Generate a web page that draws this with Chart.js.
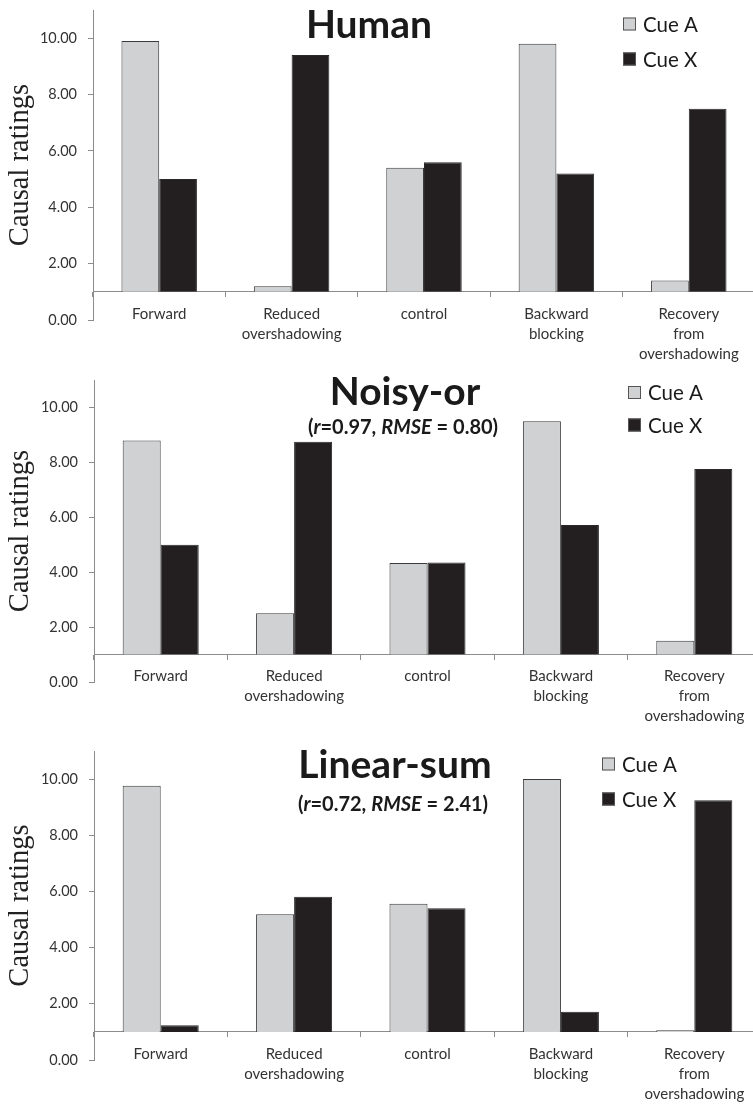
<!DOCTYPE html>
<html>
<head>
<meta charset="utf-8">
<script src="https://cdn.jsdelivr.net/npm/chart.js@4"></script>
<style>
  html, body { margin: 0; padding: 0; background: #fff; overflow: hidden; }
  body { width: 753px; height: 1104px; position: relative; }
  .panel { position: absolute; left: 0; }
</style>
</head>
<body>
<div class="panel" style="top:0px"><canvas id="human" width="755" height="368"></canvas></div>
<div class="panel" style="top:368px"><canvas id="noisy" width="761" height="368"></canvas></div>
<div class="panel" style="top:736px"><canvas id="linear" width="761" height="368"></canvas></div>
<script>
// categories and series
var categories = [['Forward'], ['Reduced', 'overshadowing'], ['control'], ['Backward', 'blocking'], ['Recovery', 'from', 'overshadowing']];
var seriesNames = ['Cue A', 'Cue X'];

// values
var humanCueA = [9.9, 1.2, 5.4, 9.8, 1.4];
var humanCueX = [5.0, 9.4, 5.6, 5.2, 7.5];
var noisyCueA = [8.8, 2.5, 4.33, 9.5, 1.5];
var noisyCueX = [5.0, 8.75, 4.35, 5.72, 7.76];
var linearCueA = [9.76, 5.19, 5.56, 10.0, 1.06];
var linearCueX = [1.24, 5.81, 5.40, 1.72, 9.25];

// value axis
var yMin = 0, yMax = 11, yStep = 2, barBase = 1;

// panel titles and fit statistics
var panelTitles = ['Human', 'Noisy-or', 'Linear-sum'];
var fitR = [null, '0.97', '0.72'];
var fitRmse = [null, '0.80', '2.41'];

var colors = ['#d0d1d3', '#231f20'];
var axisGray = '#8c8c8c';
var sans = 'Lato, "Open Sans", sans-serif';

// layout of each panel (pixels in its canvas)
var layouts = [
  { id: 'human', padTop: 10, padBottom: 48, axisLeft: 93, titleX: 369, titleY: 37.5, subX: 0, subY: 0, legX: 623, legY: [24, 59] },
  { id: 'noisy', padTop: 12, padBottom: 54, axisLeft: 94, titleX: 405, titleY: 37, subX: 403, subY: 60, legX: 628, legY: [24.5, 57] },
  { id: 'linear', padTop: 15, padBottom: 44, axisLeft: 94, titleX: 395, titleY: 42, subX: 393, subY: 69, legX: 602, legY: [28, 63] }
];

// title, subtitle and legend drawn inside the plot
var overlay = {
  id: 'overlay',
  afterDraw: function (chart) {
    var o = chart.options.plugins.overlay;
    var ctx = chart.ctx;
    ctx.save();
    ctx.fillStyle = '#1a1a1a';
    ctx.textAlign = 'center';
    ctx.textBaseline = 'alphabetic';
    ctx.font = 'bold 39px ' + sans;
    ctx.fillText(o.title, o.titleX, o.titleY);

    if (o.r) {
      var parts = [['(', false], ['r', true], ['=' + o.r + ', ', false], ['RMSE', true], [' = ' + o.rmse + ')', false]];
      var fontOf = function (it) { return (it ? 'italic ' : '') + 'bold 20px ' + sans; };
      var total = 0;
      parts.forEach(function (p) { ctx.font = fontOf(p[1]); total += ctx.measureText(p[0]).width; });
      var x = o.subX - total / 2;
      ctx.textAlign = 'left';
      ctx.textBaseline = 'middle';
      parts.forEach(function (p) {
        ctx.font = fontOf(p[1]);
        ctx.fillText(p[0], x, o.subY);
        x += ctx.measureText(p[0]).width;
      });
    }

    ctx.textAlign = 'left';
    ctx.textBaseline = 'middle';
    ctx.font = '20.5px ' + sans;
    chart.data.datasets.forEach(function (ds, i) {
      var y = o.legY[i];
      ctx.fillStyle = ds.backgroundColor;
      ctx.fillRect(o.legX, y - 6.5, 13, 13);
      ctx.strokeStyle = '#555';
      ctx.lineWidth = 1;
      ctx.strokeRect(o.legX + 0.5, y - 6, 12, 12);
      ctx.fillStyle = '#1a1a1a';
      ctx.fillText(ds.label, o.legX + 20, y + 1);
    });
    ctx.restore();
  }
};

function makeChart(i, cueA, cueX) {
  var L = layouts[i];
  var ctx = document.getElementById(L.id).getContext('2d');
  return new Chart(ctx, {
    type: 'bar',
    data: {
      labels: categories,
      datasets: [
        { label: seriesNames[0], data: cueA, backgroundColor: colors[0], borderColor: '#3a3a3a', borderWidth: 1, base: barBase },
        { label: seriesNames[1], data: cueX, backgroundColor: colors[1], borderColor: '#2a2a2a', borderWidth: 1, base: barBase }
      ]
    },
    options: {
      responsive: false,
      animation: false,
      devicePixelRatio: 1,
      layout: { padding: { left: 0, right: 0, top: L.padTop, bottom: L.padBottom } },
      datasets: { bar: { categoryPercentage: 0.57, barPercentage: 1.0 } },
      scales: {
        x: {
          position: { y: barBase },
          offset: true,
          grid: { offset: true, drawOnChartArea: false, drawTicks: true, tickLength: 5, color: axisGray },
          border: { color: axisGray, width: 1 },
          ticks: {
            autoSkip: false, maxRotation: 0, padding: 7, color: '#333',
            font: { family: sans, size: 15, lineHeight: 20 / 15 }
          }
        },
        y: {
          min: yMin, max: yMax,
          grid: { drawOnChartArea: false, drawTicks: true, tickLength: 5, color: axisGray },
          border: { color: axisGray, width: 1 },
          ticks: {
            stepSize: yStep, includeBounds: false, padding: 11, color: '#333',
            font: { family: sans, size: 14.5 },
            callback: function (v) { return v.toFixed(2); }
          },
          title: {
            display: true, text: 'Causal ratings', color: '#222',
            font: { family: '"Liberation Serif", "Times New Roman", serif', size: 28.5, lineHeight: 1.2 },
            padding: { top: 3, bottom: 0 }
          },
          afterFit: function (s) {
            s.width = L.axisLeft;
            s.paddingTop = 0;
            s.paddingBottom = 0;
          }
        }
      },
      plugins: {
        legend: { display: false },
        tooltip: { enabled: false },
        overlay: {
          title: panelTitles[i], titleX: L.titleX, titleY: L.titleY,
          r: fitR[i], rmse: fitRmse[i], subX: L.subX, subY: L.subY,
          legX: L.legX, legY: L.legY
        }
      }
    },
    plugins: [overlay]
  });
}

makeChart(0, humanCueA, humanCueX);
makeChart(1, noisyCueA, noisyCueX);
makeChart(2, linearCueA, linearCueX);
</script>
</body>
</html>
